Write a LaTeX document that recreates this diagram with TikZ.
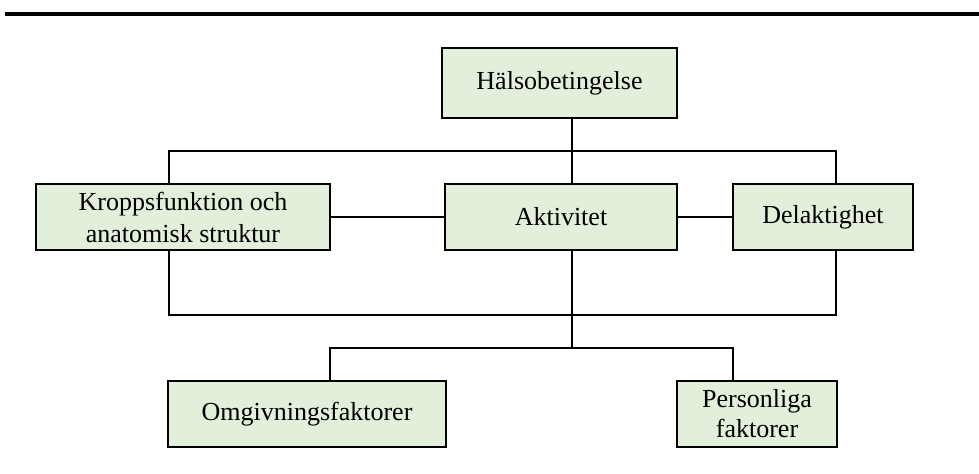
\documentclass[tikz,border=0pt]{standalone}
\usepackage{fontspec}
\setmainfont{Liberation Serif}
\usepackage{xcolor}
\usepackage{tikz}
\usetikzlibrary{positioning}

\definecolor{boxgreen}{HTML}{E2EFDA}

\begin{document}
\begin{tikzpicture}[x=0.5pt,y=-0.5pt,
    every node/.style={font=\fontsize{13}{15}\selectfont},
    box/.style={draw, fill=boxgreen, line width=1.25pt, inner sep=0pt, align=center, minimum height=33pt}]
    \useasboundingbox (0,0) rectangle (979,473);
    \draw[line width=2pt] (5,14) -- (979,14);

    \node[box, minimum width=117.5pt, minimum height=35pt] (hals) at (559.5,83) {Hälsobetingelse};
    \node[box, minimum width=147pt, font=\fontsize{13}{16}\selectfont] (kropp) at (183,217) {Kroppsfunktion och\\anatomisk struktur};
    \node[box, minimum width=116pt] (akt) at (561,217) {Aktivitet};
    \node[box, minimum width=90pt] (del) at (823,217) {Delaktighet};
    \node[box, minimum width=139pt] (omg) at (307,414) {Omgivningsfaktorer};
    \node[box, minimum width=80pt] (pers) at (757,414) {Personliga\\faktorer};

    % line positions
    \coordinate (cx) at (572,0);
    \coordinate (lx) at (169,0);
    \coordinate (rx) at (836,0);
    \coordinate (ox) at (330,0);
    \coordinate (px) at (733,0);
    \coordinate (topbus) at (0,151);
    \coordinate (midbus) at (0,315);
    \coordinate (lowbus) at (0,348);

    \begin{scope}[line width=1pt]
    \draw (hals.south -| cx) -- (akt.north -| cx);
    \draw (kropp.north -| lx) -- (lx |- topbus) -- (rx |- topbus) -- (del.north -| rx);
    \draw (kropp.east) -- (akt.west);
    \draw (akt.east) -- (del.west);
    \draw (kropp.south -| lx) -- (lx |- midbus) -- (rx |- midbus) -- (del.south -| rx);
    \draw (akt.south -| cx) -- (cx |- lowbus);
    \draw (omg.north -| ox) -- (ox |- lowbus) -- (px |- lowbus) -- (pers.north -| px);
    \end{scope}
\end{tikzpicture}
\end{document}
